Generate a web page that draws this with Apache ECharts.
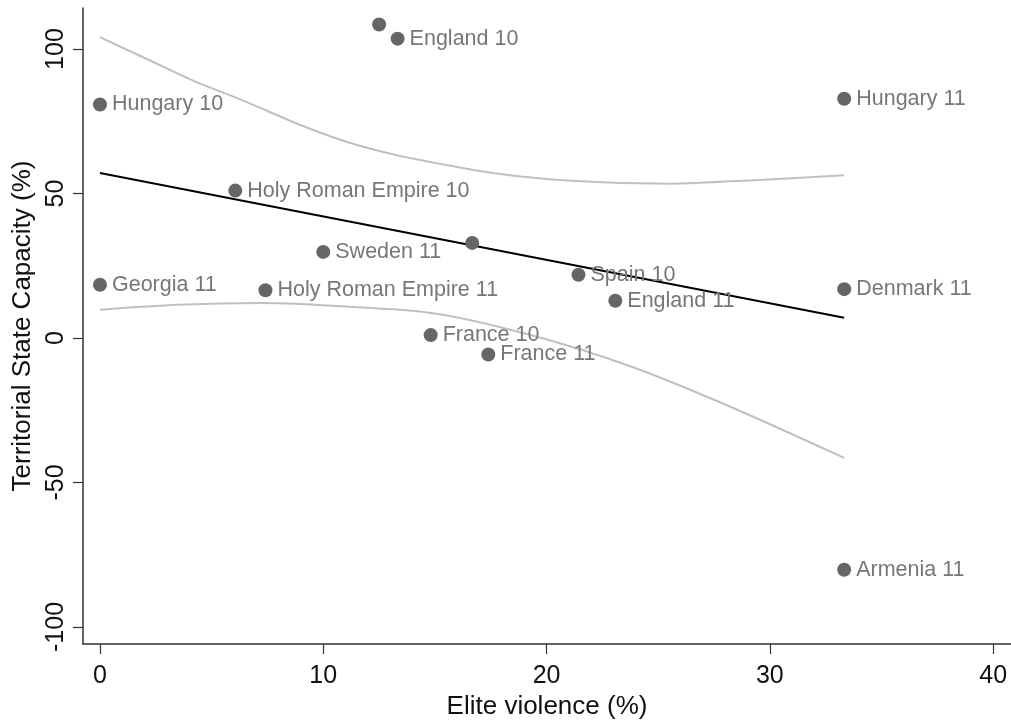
<!DOCTYPE html>
<html>
<head>
<meta charset="utf-8">
<script src="https://cdn.jsdelivr.net/npm/echarts@6/dist/echarts.min.js"></script>
<style>
  html, body { margin: 0; padding: 0; background: #fff; }
  #chart { width: 1011px; height: 720px; }
</style>
</head>
<body>
<div id="chart"></div>
<script>
// Country-century observations: elite violence vs. territorial state capacity
const pointNames = ['', 'England 10', 'Hungary 10', 'Hungary 11', 'Holy Roman Empire 10', 'Sweden 11', '',
  'Georgia 11', 'Holy Roman Empire 11', 'Spain 10', 'England 11', 'Denmark 11', 'France 10', 'France 11', 'Armenia 11'];
const eliteViolence = [12.5, 13.33, 0, 33.33, 6.06, 10, 16.67, 0, 7.41, 21.43, 23.08, 33.33, 14.81, 17.39, 33.33];
const stateCapacity = [108.5, 103.6, 80.8, 82.8, 51.0, 29.8, 32.9, 18.4, 16.5, 21.9, 12.9, 16.9, 1.0, -5.7, -80.2];

// Linear fit
const fitX = [0, 33.33];
const fitY = [57.1, 7.0];

// Confidence band, upper and lower bounds
const ciUpperX = [0, 2, 4.25, 6.5, 8.75, 11, 13.2, 15, 17.5, 20, 22.5, 25.5, 29.5, 33.33];
const ciUpperY = [104.1, 96.9, 88.8, 81.9, 74.4, 68.0, 63.4, 60.6, 57.2, 55.0, 53.9, 53.4, 54.7, 56.3];
const ciLowerX = [0, 3.5, 7.25, 11, 15, 19.25, 23.75, 28.2, 33.33];
const ciLowerY = [9.8, 11.5, 12.1, 10.9, 8.5, 1.1, -9.8, -23.7, -41.5];

// Axis ticks
const xTicks = [0, 10, 20, 30, 40];
const yTicks = [-100, -50, 0, 50, 100];

const zip = (xs, ys) => xs.map((x, i) => [x, ys[i]]);
const FONT = '"Liberation Sans", Arial, Helvetica, sans-serif';

const chart = echarts.init(document.getElementById('chart'), null, { renderer: 'canvas' });
chart.setOption({
  animation: false,
  backgroundColor: '#ffffff',
  grid: { left: 83, right: 0, top: 8, bottom: 76, containLabel: false, outerBoundsMode: 'none' },
  xAxis: {
    type: 'value',
    min: -0.76,
    max: 40.8,
    name: 'Elite violence (%)',
    nameLocation: 'middle',
    nameGap: 38,
    nameTextStyle: { fontFamily: FONT, fontSize: 26, color: '#111' },
    axisLine: { show: true, onZero: false, lineStyle: { color: '#333', width: 1.5 } },
    axisTick: { show: true, customValues: xTicks, length: 10, lineStyle: { color: '#333', width: 1.2 } },
    axisLabel: { customValues: xTicks, fontFamily: FONT, fontSize: 25, color: '#111', margin: 20 },
    splitLine: { show: false }
  },
  yAxis: {
    type: 'value',
    min: -105.9,
    max: 114.2,
    name: 'Territorial State Capacity (%)',
    nameLocation: 'middle',
    nameGap: 38,
    nameRotate: 90,
    nameTextStyle: { fontFamily: FONT, fontSize: 26, color: '#111' },
    axisLine: { show: true, onZero: false, lineStyle: { color: '#333', width: 1.5 } },
    axisTick: { show: true, customValues: yTicks, length: 10, lineStyle: { color: '#333', width: 1.2 } },
    axisLabel: { customValues: yTicks, rotate: 90, fontFamily: FONT, fontSize: 25, color: '#111', margin: 14 },
    splitLine: { show: false }
  },
  series: [
    {
      type: 'line',
      data: zip(ciUpperX, ciUpperY),
      smooth: 0.3,
      symbol: 'none',
      lineStyle: { color: '#c0c0c0', width: 2 },
      z: 1
    },
    {
      type: 'line',
      data: zip(ciLowerX, ciLowerY),
      smooth: 0.3,
      symbol: 'none',
      lineStyle: { color: '#c0c0c0', width: 2 },
      z: 1
    },
    {
      type: 'line',
      data: zip(fitX, fitY),
      symbol: 'none',
      lineStyle: { color: '#000', width: 2 },
      z: 2
    },
    {
      type: 'scatter',
      data: eliteViolence.map((x, i) => ({ value: [x, stateCapacity[i]], name: pointNames[i] })),
      symbol: 'circle',
      symbolSize: 14,
      itemStyle: { color: '#666666', opacity: 1 },
      label: {
        show: true,
        position: 'right',
        distance: 5,
        formatter: p => p.name,
        fontFamily: FONT,
        fontSize: 21.5,
        color: '#777'
      },
      z: 3
    }
  ]
});
</script>
</body>
</html>
